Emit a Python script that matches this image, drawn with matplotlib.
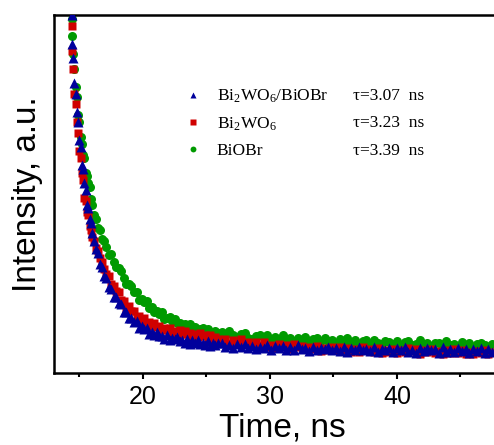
import matplotlib
matplotlib.use('Agg')
import matplotlib.pyplot as plt
from matplotlib.ticker import MultipleLocator

plt.rcParams['font.family'] = 'Liberation Sans'
plt.rcParams['mathtext.fontset'] = 'custom'
plt.rcParams['mathtext.rm'] = 'Liberation Serif'

# time channels (ns): fast rise region, middle, tail
t_fast = [14.40, 14.45, 14.50, 14.60, 14.70, 14.80, 14.90, 15.00, 15.10, 15.20, 15.30, 15.40,
          15.50, 15.60, 15.70, 15.80, 15.90, 16.00, 16.15, 16.30, 16.45, 16.60, 16.75, 16.90]
t_mid = [17.1, 17.3, 17.5, 17.7, 17.9, 18.1, 18.3, 18.5, 18.7, 18.9, 19.1, 19.3, 19.5, 19.7, 19.9,
         20.1, 20.3, 20.5, 20.7, 20.9, 21.1, 21.3, 21.5, 21.7, 21.9, 22.1, 22.3, 22.5, 22.7, 22.9,
         23.1, 23.3, 23.5, 23.7, 23.9, 24.1, 24.3, 24.5, 24.7, 24.9, 25.1, 25.3, 25.5, 25.7, 25.9]
t_tail = [26.2, 26.5, 26.8, 27.1, 27.4, 27.7, 28.0, 28.3, 28.6, 28.9, 29.2, 29.5,
          29.8, 30.1, 30.4, 30.7, 31.0, 31.3, 31.6, 31.9, 32.2, 32.5, 32.8, 33.1,
          33.4, 33.7, 34.0, 34.3, 34.6, 34.9, 35.2, 35.5, 35.8, 36.1, 36.4, 36.7,
          37.0, 37.3, 37.6, 37.9, 38.2, 38.5, 38.8, 39.1, 39.4, 39.7, 40.0, 40.3,
          40.6, 40.9, 41.2, 41.5, 41.8, 42.1, 42.4, 42.7, 43.0, 43.3, 43.6, 43.9,
          44.2, 44.5, 44.8, 45.1, 45.4, 45.7, 46.0, 46.3, 46.6, 46.9, 47.2, 47.5]
time_ns = t_fast + t_mid + t_tail

# normalised intensity
composite = [1.00, 0.92, 0.88, 0.81, 0.78, 0.73, 0.70, 0.65, 0.63, 0.58, 0.57, 0.53,
             0.51, 0.47, 0.46, 0.43, 0.42, 0.39, 0.37, 0.345, 0.335, 0.305, 0.295, 0.27,
             0.266, 0.241, 0.235, 0.213, 0.212, 0.195, 0.194, 0.171, 0.170, 0.153, 0.153, 0.142,
             0.146, 0.125, 0.132, 0.122, 0.125, 0.110, 0.115, 0.106, 0.115, 0.102, 0.104, 0.094,
             0.105, 0.092, 0.099, 0.094, 0.100, 0.088, 0.093, 0.084, 0.094, 0.080, 0.091, 0.084,
             0.091, 0.081, 0.084, 0.077, 0.089, 0.075, 0.083, 0.078, 0.084,
             0.084, 0.073, 0.079, 0.069, 0.080, 0.074, 0.082, 0.069, 0.076, 0.067, 0.073, 0.069,
             0.079, 0.063, 0.075, 0.069, 0.075, 0.064, 0.072, 0.065, 0.077, 0.066, 0.070, 0.061,
             0.074, 0.063, 0.071, 0.067, 0.074, 0.063, 0.069, 0.061, 0.072, 0.058, 0.070, 0.064,
             0.072, 0.063, 0.067, 0.061, 0.072, 0.059, 0.068, 0.063, 0.070, 0.059, 0.069, 0.063,
             0.072, 0.060, 0.065, 0.056, 0.069, 0.061, 0.070, 0.063, 0.067, 0.057, 0.072, 0.060,
             0.066, 0.058, 0.069, 0.061, 0.067, 0.055, 0.066, 0.062, 0.070, 0.057, 0.068, 0.060]
bi2wo6 = [0.97, 0.90, 0.85, 0.78, 0.75, 0.70, 0.67, 0.62, 0.60, 0.56, 0.54, 0.49,
          0.48, 0.45, 0.44, 0.41, 0.40, 0.38, 0.37, 0.35, 0.34, 0.32, 0.31, 0.29,
          0.277, 0.271, 0.248, 0.244, 0.229, 0.226, 0.205, 0.202, 0.182, 0.186, 0.173, 0.174,
          0.157, 0.158, 0.145, 0.153, 0.141, 0.142, 0.130, 0.141, 0.129, 0.131, 0.120, 0.126,
          0.119, 0.125, 0.111, 0.118, 0.111, 0.119, 0.109, 0.118, 0.108, 0.113, 0.101, 0.108,
          0.100, 0.112, 0.102, 0.105, 0.097, 0.106, 0.092, 0.100, 0.094,
          0.090, 0.096, 0.084, 0.091, 0.087, 0.094, 0.081, 0.087, 0.075, 0.086, 0.079, 0.086,
          0.074, 0.079, 0.070, 0.081, 0.073, 0.077, 0.068, 0.081, 0.072, 0.076, 0.066, 0.073,
          0.068, 0.075, 0.061, 0.069, 0.063, 0.072, 0.063, 0.073, 0.063, 0.069, 0.058, 0.066,
          0.060, 0.073, 0.063, 0.067, 0.060, 0.069, 0.056, 0.065, 0.059, 0.066, 0.056, 0.064,
          0.059, 0.069, 0.061, 0.066, 0.053, 0.064, 0.059, 0.067, 0.056, 0.061, 0.053, 0.065,
          0.056, 0.067, 0.057, 0.063, 0.053, 0.060, 0.053, 0.061, 0.057, 0.064, 0.054, 0.060]
biobr = [0.99, 0.94, 0.89, 0.85, 0.80, 0.77, 0.72, 0.70, 0.66, 0.64, 0.61, 0.60,
         0.56, 0.55, 0.53, 0.52, 0.485, 0.47, 0.44, 0.43, 0.405, 0.40, 0.375, 0.37,
         0.352, 0.330, 0.332, 0.310, 0.295, 0.292, 0.285, 0.264, 0.249, 0.248, 0.243, 0.226,
         0.226, 0.205, 0.207, 0.197, 0.200, 0.181, 0.183, 0.169, 0.174, 0.164, 0.169, 0.150,
         0.155, 0.156, 0.144, 0.151, 0.139, 0.141, 0.130, 0.138, 0.131, 0.138, 0.123, 0.129,
         0.118, 0.124, 0.125, 0.114, 0.124, 0.113, 0.108, 0.116, 0.113,
         0.114, 0.103, 0.116, 0.105, 0.101, 0.108, 0.111, 0.099, 0.094, 0.102, 0.105, 0.097,
         0.105, 0.091, 0.100, 0.096, 0.105, 0.091, 0.099, 0.089, 0.099, 0.092, 0.101, 0.085,
         0.094, 0.097, 0.088, 0.097, 0.088, 0.092, 0.083, 0.094, 0.088, 0.097, 0.083, 0.091,
         0.082, 0.089, 0.092, 0.083, 0.093, 0.084, 0.080, 0.088, 0.086, 0.082, 0.089, 0.077,
         0.086, 0.090, 0.079, 0.082, 0.091, 0.077, 0.085, 0.076, 0.084, 0.085, 0.073, 0.088,
         0.079, 0.081, 0.075, 0.086, 0.077, 0.084, 0.072, 0.081, 0.083, 0.077, 0.072, 0.081]

labels = ['Bi$\\mathregular{_2}$WO$\\mathregular{_6}$/BiOBr',
          'Bi$\\mathregular{_2}$WO$\\mathregular{_6}$',
          'BiOBr']
taus = ['\u03c4=3.07  ns', '\u03c4=3.23  ns', '\u03c4=3.39  ns']

fig = plt.figure(figsize=(4.94, 4.45), dpi=100)
ax = fig.add_axes([0.1093, 0.1618, 0.923, 0.8045])

# green first, blue on top
ax.plot(time_ns, biobr, 'o', color='#009a00', ms=6.5, mec='none', label=labels[2], zorder=2)
ax.plot(time_ns, bi2wo6, 's', color='#d00000', ms=5.6, mec='none', label=labels[1], zorder=3)
ax.plot(time_ns, composite, '^', color='#00009c', ms=7, mec='none', label=labels[0], zorder=4)

ax.set_xlim(13.0, 48.9)
ax.set_ylim(0, 1.0)
ax.set_yticks([])
ax.xaxis.set_major_locator(MultipleLocator(10))
ax.xaxis.set_minor_locator(MultipleLocator(5))
ax.tick_params(axis='x', which='major', direction='out', length=4, width=1.5,
               labelsize=18, pad=5)
ax.tick_params(axis='x', which='minor', direction='out', length=3, width=1.5)
for s in ax.spines.values():
    s.set_linewidth(1.8)

ax.set_xlabel('Time, ns', fontsize=24, labelpad=2)
ax.set_ylabel('Intensity, a.u.', fontsize=24, labelpad=8)

h, l = ax.get_legend_handles_labels()
ax.legend(h[::-1], l[::-1], loc='upper left', bbox_to_anchor=(0.285, 0.797),
          frameon=False, borderpad=0, borderaxespad=0, handlelength=1.0,
          handletextpad=0.9, labelspacing=0.6, markerscale=0.65,
          prop={'family': 'Liberation Serif', 'size': 12.5})

for i, t in enumerate(taus):
    ax.text(0.656, 0.775 - i * 0.0775, t, transform=ax.transAxes, va='center',
            ha='left', family='Liberation Serif', fontsize=12.5)

fig.savefig('out.png', dpi=100)
